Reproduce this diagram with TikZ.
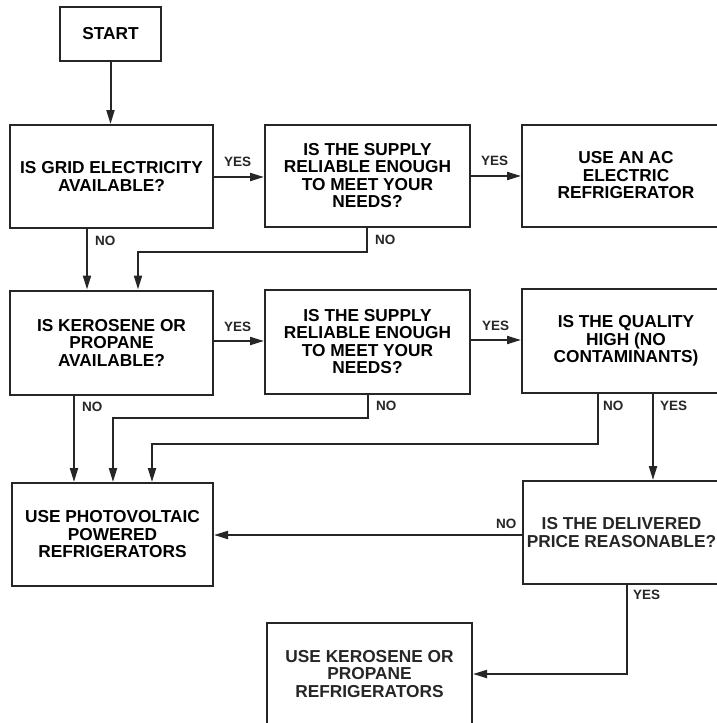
\documentclass[tikz,border=0pt]{standalone}
\usepackage{fontspec}
\setmainfont{Liberation Sans}
\usetikzlibrary{arrows.meta}
\begin{document}
\begin{tikzpicture}[x=1pt,y=-1pt,
  box/.style={draw=black!85,line width=2pt,rectangle,inner sep=0pt,align=center,
    font=\fontsize{17.3}{17.5}\selectfont\bfseries},
  conn/.style={draw=black!85,line width=2pt,-{Triangle[length=14pt,width=8pt]}},
  lbl/.style={font=\fontsize{13.5}{14}\selectfont\bfseries,inner sep=0pt,text=black!85}]
\useasboundingbox[fill=white] (0,0) rectangle (717,723);
\node[box,minimum width=101pt,minimum height=54pt] (start) at (110.5,34) {START};
\node[box,minimum width=203pt,minimum height=103pt] (grid) at (111.5,176.5) {IS GRID ELECTRICITY\\AVAILABLE?};
\node[box,minimum width=205pt,minimum height=102pt] (rel1) at (367.5,175.5) {IS THE SUPPLY\\RELIABLE ENOUGH\\TO MEET YOUR\\NEEDS?};
\node[box,minimum width=208pt,minimum height=102pt] (ac) at (626,175.5) {USE AN AC\\ELECTRIC\\REFRIGERATOR};
\node[box,minimum width=203pt,minimum height=104pt] (kero) at (111.5,342.5) {IS KEROSENE OR\\PROPANE\\AVAILABLE?};
\node[box,minimum width=205pt,minimum height=104pt] (rel2) at (367.5,341.5) {IS THE SUPPLY\\RELIABLE ENOUGH\\TO MEET YOUR\\NEEDS?};
\node[box,minimum width=208pt,minimum height=104pt] (qual) at (626,341) {IS THE QUALITY\\HIGH (NO\\CONTAMINANTS)};
\node[box,minimum width=201pt,minimum height=103pt] (pv) at (112.5,534.5) {USE PHOTOVOLTAIC\\POWERED\\REFRIGERATORS};
\node[box,minimum width=208pt,minimum height=103pt] (dp) at (627,532.5) {};
\node[font=\fontsize{17.3}{17.5}\selectfont\bfseries,align=center,text=black!85] (dptext) at (621.5,532.5) {IS THE DELIVERED\\PRICE REASONABLE?};
\node[box,minimum width=205pt,minimum height=120pt] (kref) at (369.5,683) {};
\node[font=\fontsize{17.3}{17.5}\selectfont\bfseries,align=center,text=black!85] (ktext) at (369.5,674) {USE KEROSENE OR\\PROPANE\\REFRIGERATORS};
\coordinate (g1) at (87,228);
\coordinate (r1a) at (367,252);
\coordinate (r1b) at (138,252);
\coordinate (r2a) at (368,418);
\coordinate (r2b) at (113,418);
\coordinate (q1) at (598,444);
\coordinate (q2) at (152,444);
\coordinate (d1) at (627,674);
\draw[conn] (start.south) -- (start.south |- grid.north);
\draw[conn] (grid.east |- 0,177) -- (rel1.west |- 0,177);
\draw[conn] (rel1.east |- 0,176) -- (ac.west |- 0,176);
\draw[conn] (grid.south -| g1) -- (kero.north -| g1);
\draw[conn] (rel1.south -| r1a) -- (r1a) -- (r1b) -- (kero.north -| r1b);
\draw[conn] (kero.east |- 0,341) -- (rel2.west |- 0,341);
\draw[conn] (rel2.east |- 0,340) -- (qual.west |- 0,340);
\draw[conn] (kero.south -| 74,0) -- (pv.north -| 74,0);
\draw[conn] (rel2.south -| r2a) -- (r2a) -- (r2b) -- (pv.north -| r2b);
\draw[conn] (qual.south -| q1) -- (q1) -- (q2) -- (pv.north -| q2);
\draw[conn] (qual.south -| 653,0) -- (dp.north -| 653,0);
\draw[conn] (dp.west |- 0,535) -- (pv.east |- 0,535);
\draw[conn] (dp.south -| d1) -- (d1) -- (kref.east |- d1);
\node[lbl,anchor=base west] (l1) at (224,166) {YES};
\node[lbl,anchor=base west] (l2) at (481,165) {YES};
\node[lbl,anchor=base west] (l3) at (95,245) {NO};
\node[lbl,anchor=base west] (l4) at (375,244) {NO};
\node[lbl,anchor=base west] (l5) at (224,331) {YES};
\node[lbl,anchor=base west] (l6) at (482,330) {YES};
\node[lbl,anchor=base west] (l7) at (82,411) {NO};
\node[lbl,anchor=base west] (l8) at (376,410) {NO};
\node[lbl,anchor=base west] (l9) at (603,410) {NO};
\node[lbl,anchor=base west] (l10) at (660,410) {YES};
\node[lbl,anchor=base west] (l11) at (496,528) {NO};
\node[lbl,anchor=base west] (l12) at (633,599) {YES};
\end{tikzpicture}
\end{document}
